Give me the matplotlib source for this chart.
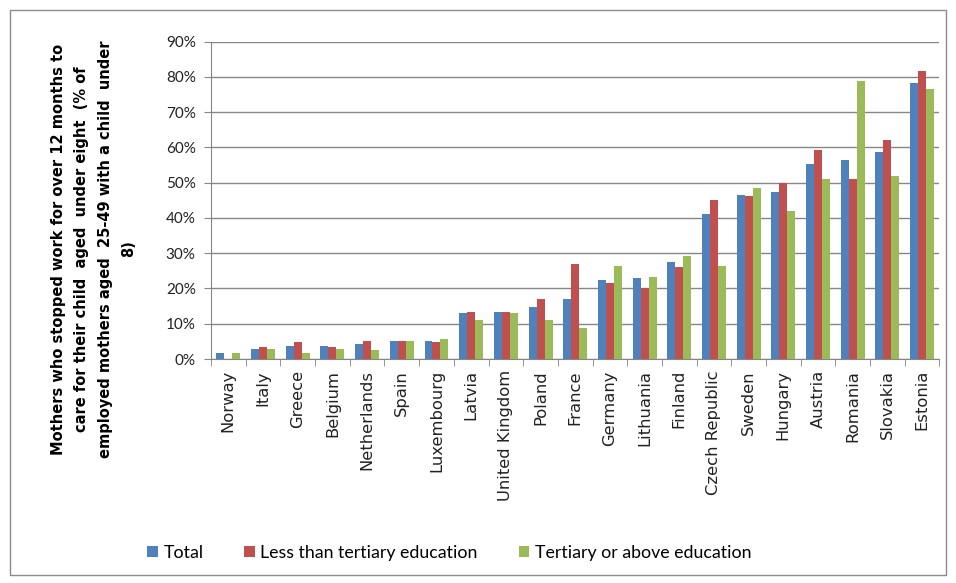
import matplotlib.pyplot as plt
import numpy as np
from matplotlib.patches import Rectangle
from matplotlib.ticker import PercentFormatter

countries = ["Norway", "Italy", "Greece", "Belgium", "Netherlands", "Spain",
             "Luxembourg", "Latvia", "United Kingdom", "Poland", "France",
             "Germany", "Lithuania", "Finland", "Czech Republic", "Sweden",
             "Hungary", "Austria", "Romania", "Slovakia", "Estonia"]
total = [1.6, 2.8, 3.8, 3.8, 4.3, 5.2, 5.2, 13.0, 13.3, 14.7, 17.0,
         22.4, 22.9, 27.4, 41.1, 46.5, 47.5, 55.3, 56.5, 58.8, 78.4]
less_tertiary = [0.0, 3.3, 4.7, 3.3, 5.2, 5.2, 4.7, 13.3, 13.3, 17.0, 27.0,
                 21.5, 20.1, 26.0, 45.1, 46.1, 50.0, 59.3, 51.1, 62.0, 81.6]
tertiary_above = [1.6, 2.8, 1.6, 2.8, 2.5, 5.2, 5.7, 11.1, 13.0, 11.1, 8.7,
                  26.5, 23.4, 29.2, 26.5, 48.4, 42.0, 51.1, 78.9, 52.0, 76.6]
series_names = ["Total", "Less than tertiary education", "Tertiary or above education"]
colors = ["#4F81BD", "#C0504D", "#9BBB59"]

plt.rcParams["font.family"] = ["Lato", "DejaVu Sans"]

fig = plt.figure(figsize=(9.56, 5.83), dpi=100)
ax = fig.add_axes([0.2207, 0.3842, 0.762, 0.5443])

x = np.arange(len(countries))
w = 0.23
for i, (vals, name, c) in enumerate(zip([total, less_tertiary, tertiary_above], series_names, colors)):
    ax.bar(x + (i - 1) * w, np.array(vals) / 100, w, color=c, label=name, zorder=3)

ax.set_xlim(-0.5, len(countries) - 0.5)
ax.set_ylim(0, 0.9)
ax.set_yticks(np.arange(0, 0.91, 0.1))
ax.yaxis.set_major_formatter(PercentFormatter(1.0, decimals=0))
ax.grid(axis="y", color="#868686", linewidth=1, zorder=0)
for s in ["top", "right"]:
    ax.spines[s].set_visible(False)
ax.spines["left"].set_color("#868686")
ax.spines["bottom"].set_color("#868686")

ax.set_xticks(x)
ax.set_xticklabels(countries, rotation=90, fontsize=11.8, color="#222222",
                   family="DejaVu Sans")
ax.set_xticks(np.arange(-0.5, len(countries), 1), minor=True)
ax.tick_params(axis="x", which="major", length=0, pad=8)
ax.tick_params(axis="x", which="minor", length=5, color="#868686")
ax.tick_params(axis="y", length=5, color="#868686", labelsize=11, labelcolor="#222222", pad=6)

fig.text(0.098, 0.573,
         "Mothers who stopped work for over 12 months to\n"
         "care for their child  aged  under eight  (% of\n"
         "employed mothers aged  25-49 with a child  under\n8)",
         rotation=90, ha="center", va="center", multialignment="center",
         fontsize=10.5, fontweight="bold", linespacing=1.7, family="DejaVu Sans")

fig.legend(loc="center", bbox_to_anchor=(0.47, 0.052), ncol=3, frameon=False,
           fontsize=12.8, handlelength=0.6, handleheight=0.6, handletextpad=0.3,
           columnspacing=2.3)

fig.patches.append(Rectangle((10 / 956, 8 / 583), 936 / 956, 565 / 583,
                             transform=fig.transFigure, fill=False,
                             edgecolor="#8c8c8c", linewidth=1))

fig.savefig("out.png", dpi=100)
